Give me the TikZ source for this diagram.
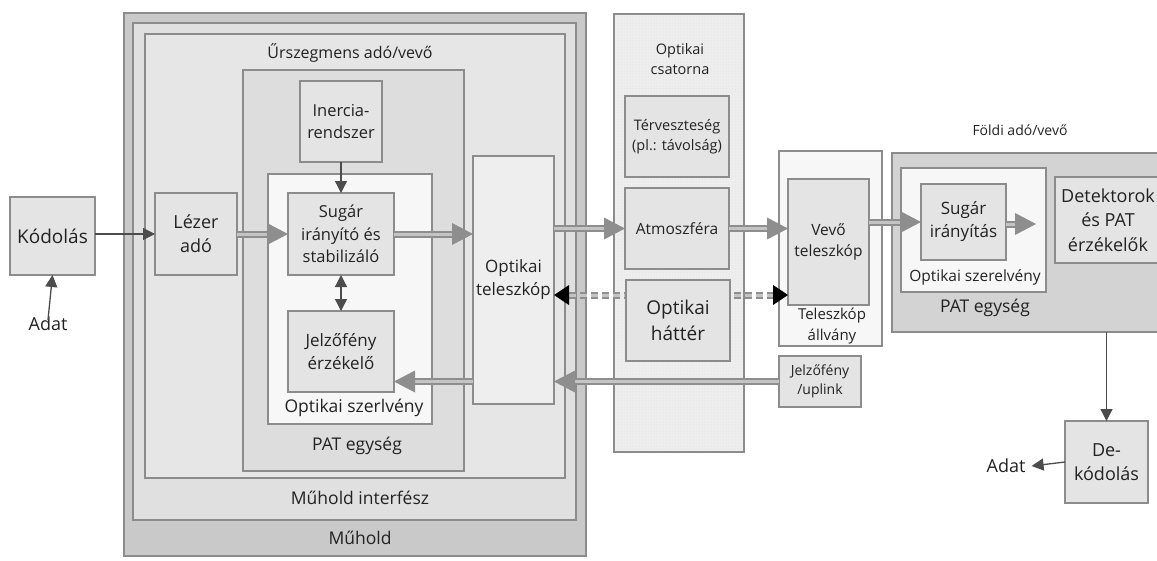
\documentclass[tikz,border=0pt]{standalone}
\usepackage{fontspec}
\setmainfont{Open Sans}
\usetikzlibrary{arrows.meta,patterns}

\definecolor{frame}{HTML}{8C8C8C}
\definecolor{satfill}{HTML}{C9C9C9}
\definecolor{iffill}{HTML}{E0E0E0}
\definecolor{segfill}{HTML}{E6E6E6}
\definecolor{patfill}{HTML}{DDDDDD}
\definecolor{boxfill}{HTML}{E4E4E4}
\definecolor{asmfill}{HTML}{F7F7F7}
\definecolor{chfill}{HTML}{EEEEEE}
\definecolor{gpatfill}{HTML}{D3D3D3}
\definecolor{beamdark}{HTML}{8E8E8E}
\definecolor{beamlight}{HTML}{C4C4C4}
\definecolor{txt}{HTML}{222222}

% box given by its corners: name, x1, y1, x2, y2, style, text
\newcommand\pbox[7]{%
  \node[#6, minimum width={(#4-#2)*1pt}, minimum height={(#5-#3)*1pt}]
    (#1) at ({(#2+#4)/2},{(#3+#5)/2}) {#7};}

% horizontal optical beam: from, to, direction (1 right, -1 left)
\newcommand\beam[3]{%
  \draw[beamline] (#1) -- (#2);
  \draw[beamcore] (#1) -- (#2);
  \fill[beamdark] (#2) -- ++({-21*#3},-11) -- ++(0,22) -- cycle;}

\tikzset{
  x=1pt, y=-1pt,
  fs/.code={\pgfmathsetmacro\fsbase{#1*1.35}%
    \tikzset{font/.expanded={\noexpand\fontsize{#1}{\fsbase}\noexpand\selectfont}}},
  big/.style={fs=17.5},
  region/.style={draw=frame, line width=1.6pt, inner sep=0pt, outer sep=0pt},
  block/.style={region, fill=boxfill, align=center, text=txt, big},
  lbl/.style={inner sep=0pt, align=center, text=txt},
  beamline/.style={draw=beamdark, line width=7pt, shorten >=19pt},
  beamcore/.style={draw=beamlight, line width=3pt, shorten >=19pt},
  sig/.style={draw=black!70, line width=1.3pt,
    -{Triangle[length=12pt,width=12pt]}},
  sigboth/.style={draw=black!70, line width=1.3pt,
    {Triangle[length=12pt,width=12pt]}-{Triangle[length=12pt,width=12pt]}},
  bcn/.style={draw=beamdark, line width=7pt, dash pattern=on 7pt off 4pt},
  bcncore/.style={draw=beamlight, line width=3pt, dash pattern=on 7pt off 4pt},
}

\begin{document}
\begin{tikzpicture}
\useasboundingbox[fill=white] (0,0) rectangle (1157,560);
\clip (0,0) rectangle (1157,560);

% --- satellite nesting ---
\pbox{sat}{124}{13}{586}{556}{region, fill=satfill}{}
\pbox{sif}{133}{23}{576}{520}{region, fill=iffill}{}
\pbox{seg}{145}{34}{565}{478}{region, fill=segfill}{}
\pbox{spat}{243}{70}{464}{471}{region, fill=patfill}{}
\pbox{sasm}{268}{174}{432}{424}{region, fill=asmfill}{}

% --- optical channel ---
\pbox{chan}{614}{14}{744}{452}{region, fill=chfill}{}
\fill[pattern=dots, pattern color=black!14] (616,16) rectangle (742,450);

% --- receiver side ---
\pbox{mount}{779}{151}{882}{346}{region, fill=asmfill}{}
\pbox{gpat}{892}{153}{1170}{332}{region, fill=gpatfill}{}
\pbox{gasm}{901}{168}{1046}{292}{region, fill=asmfill}{}

% --- blocks ---
\pbox{kod}{10}{197}{95}{275}{block, fs=19}{Kódolás}
\pbox{lezer}{155}{193}{237}{275}{block, fs=18}{Lézer\\adó}
\pbox{iner}{300}{81}{382}{162}{block, fs=16.5}{Inercia-\\rendszer}
\pbox{sugar}{288}{193}{394}{275}{block, fs=16.5}{Sugár\\irányító és\\stabilizáló}
\pbox{jel}{288}{311}{394}{392}{block, fs=17}{Jelzőfény\\érzékelő}
\pbox{optel}{473}{156}{554}{404}{block, fill=chfill, fs=17}{Optikai\\teleszkóp}
\pbox{terv}{625}{96}{729}{177}{block, fs=14.5}{Térveszteség\\(pl.: távolság)}
\pbox{atm}{625}{188}{729}{269}{block, fs=15.5}{Atmoszféra}
\pbox{uplink}{779}{356}{861}{407}{block, fs=14}{Jelzőfény\\/uplink}
\pbox{vevo}{788}{179}{869}{305}{block, fs=15.5}{Vevő\\teleszkóp}
\pbox{gsugar}{921}{184}{1006}{260}{block, fs=17}{Sugár\\irányítás}
\pbox{det}{1055}{177}{1161}{263}{block, fs=18}{Detektorok\\és PAT\\érzékelők}
\pbox{dek}{1065}{421}{1148}{503}{block, fs=18}{De-\\kódolás}
\coordinate (gend) at (1036,224);
\coordinate (dashy) at (0,295);

% --- optical beams ---
\beam{lezer.east}{sugar.west}{1}
\beam{sugar.east}{sugar.east -| optel.west}{1}
\beam{atm.west -| optel.east}{atm.west}{1}
\beam{atm.east}{atm.east -| vevo.west}{1}
\beam{gsugar.west -| vevo.east}{gsugar.west}{1}
\beam{gsugar.east |- gend}{gend}{1}
\beam{uplink.west}{uplink.west -| optel.east}{-1}
\beam{optel.west |- uplink.west}{jel.east |- uplink.west}{-1}

% background light path, dashed, in both directions
\draw[bcn] ([xshift=15pt]optel.east |- dashy) -- ([xshift=-15pt]vevo.west |- dashy);
\draw[bcncore] ([xshift=15pt]optel.east |- dashy) -- ([xshift=-15pt]vevo.west |- dashy);
\fill[black] (optel.east |- dashy) -- ++(15,-10) -- ++(0,20) -- cycle;
\fill[black] (vevo.west |- dashy) -- ++(-15,-10) -- ++(0,20) -- cycle;
\pbox{hatter}{626}{280}{730}{361}{block, fs=19}{Optikai\\háttér}

% --- signal arrows ---
\node[lbl, fs=18] (adatin) at (48,324) {Adat};
\node[lbl, fs=18] (adatout) at (1006,466) {Adat};
\draw[sig] ([yshift=-3pt]adatin.north) -- (kod.south);
\draw[sig] (kod.east |- lezer.west) -- (lezer.west);
\draw[sig] (iner.south) -- (sugar.north);
\draw[sigboth] (sugar.south) -- (jel.north);
\draw[sig] (gpat.south -| dek.north) -- (dek.north);
\draw[sig] (dek.west) -- ([xshift=6pt]adatout.east);

% --- region labels ---
\node[lbl, fs=16] (segl) at (350,53) {Űrszegmens adó/vevő};
\node[lbl, big] (sasml) at (354,408) {Optikai szerlvény};
\node[lbl, big] (spatl) at (357,446) {PAT egység};
\node[lbl, big] (sifl) at (360,498) {Műhold interfész};
\node[lbl, big] (satl) at (360,538) {Műhold};
\node[lbl, fs=14.5] (chanl) at (680,59) {Optikai\\csatorna};
\node[lbl, fs=15] (mountl) at (832,326) {Teleszkóp\\állvány};
\node[lbl, fs=14] (groundl) at (1020,130) {Földi adó/vevő};
\node[lbl, fs=15.5] (gasml) at (975,277) {Optikai szerelvény};
\node[lbl, big] (gpatl) at (985,308) {PAT egység};
\end{tikzpicture}
\end{document}
